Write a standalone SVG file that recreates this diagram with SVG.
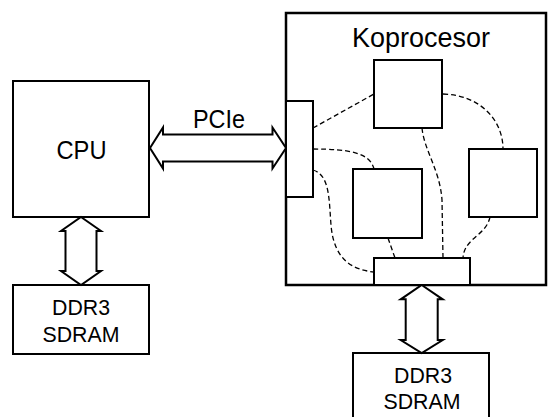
<svg xmlns="http://www.w3.org/2000/svg" width="548" height="417" viewBox="0 0 548 417">
<style>
.box{fill:#fff;stroke:#000;stroke-width:2}
.big{fill:#fff;stroke:#000;stroke-width:2.5}
.arr{fill:#fff;stroke:#000;stroke-width:2;stroke-linejoin:miter}
.dash{fill:none;stroke:#000;stroke-width:1.3;stroke-dasharray:5,3}
text{font-family:"Liberation Sans","Open Sans",sans-serif;fill:#000;text-anchor:middle}
.t25{font-size:25px}
.t27{font-size:27px}
.t22{font-size:22px}
</style>
<rect width="548" height="417" fill="#fff"/>
<g id="cpu"><rect class="box" x="13" y="81" width="136" height="136"/><text class="t25" x="81.5" y="158.5" textLength="50" lengthAdjust="spacingAndGlyphs">CPU</text></g>
<g id="ddr3-left"><rect class="box" x="13" y="285" width="136" height="69"/><text class="t22" x="81" y="315" textLength="58" lengthAdjust="spacingAndGlyphs">DDR3</text><text class="t22" x="81" y="342" textLength="77" lengthAdjust="spacingAndGlyphs">SDRAM</text></g>
<g id="koprocesor"><rect class="big" x="286" y="13" width="260" height="272"/><text class="t27" x="421" y="46.5" textLength="138" lengthAdjust="spacingAndGlyphs">Koprocesor</text></g>
<g id="ddr3-right"><rect class="box" x="353" y="353" width="136" height="70"/><text class="t22" x="423" y="383" textLength="58" lengthAdjust="spacingAndGlyphs">DDR3</text><text class="t22" x="422" y="408.5" textLength="77" lengthAdjust="spacingAndGlyphs">SDRAM</text></g>
<g id="connectors">
<path class="dash" d="M313,128 L374,94"/>
<path class="dash" d="M313,149 C350,149 370,153 374,169"/>
<path class="dash" d="M313,170 C330,175 329,200 331,225 C334,262 355,270 374,272"/>
<path class="dash" d="M388,238 L395,258"/>
<path class="dash" d="M422,128 C424,150 440,170 442,200 L443,258"/>
<path class="dash" d="M443,94 C480,95 503,120 503,149"/>
<path class="dash" d="M490,217 C486,236 464,238 463,258"/>
<path class="arr" d="M150,148 L163,127.5 L163,134.5 L272.5,134.5 L272.5,127.5 L286,148 L272.5,168.5 L272.5,161.5 L163,161.5 L163,168.5 Z"/>
<text class="t25" x="219" y="128.3" textLength="52" lengthAdjust="spacingAndGlyphs">PCIe</text>
<path class="arr" d="M81,217 L101,231 L96.5,231 L96.5,271 L101,271 L81,285 L61,271 L65.5,271 L65.5,231 L61,231 Z"/>
<path class="arr" d="M421.7,285 L442.7,299.3 L437.7,299.3 L437.7,340 L442.7,340 L421.7,353 L400.7,340 L405.7,340 L405.7,299.3 L400.7,299.3 Z"/>
</g>
<g id="pcie-if"><rect class="box" x="286" y="101" width="27" height="96"/></g>
<g id="block-top"><rect class="box" x="374" y="60" width="68" height="68"/></g>
<g id="block-mid"><rect class="box" x="353" y="169" width="69" height="69"/></g>
<g id="block-right"><rect class="box" x="469" y="149" width="68" height="68"/></g>
<g id="mem-if"><rect class="box" x="374" y="258" width="96" height="27"/></g>
</svg>
